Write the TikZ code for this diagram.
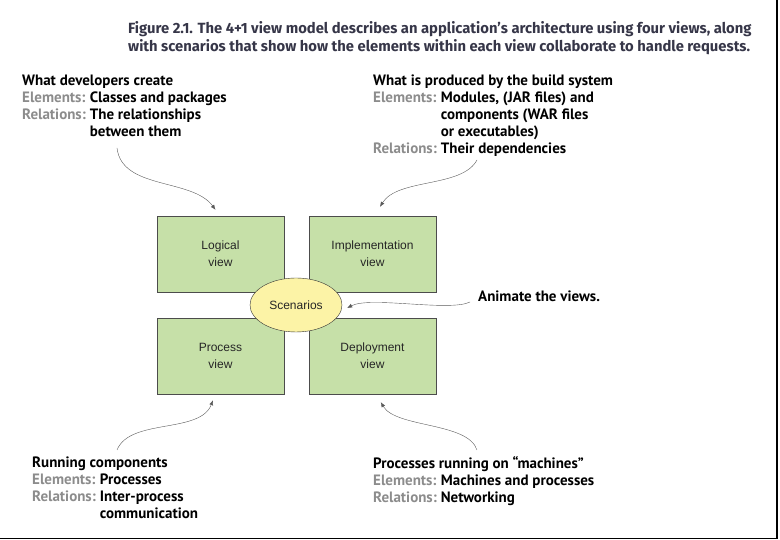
\documentclass[tikz,border=0pt]{standalone}
\usepackage{fontspec}
\setmainfont{Liberation Sans}
\newfontfamily\capfont{Fira Sans}
\newfontfamily\notefont{PT Sans}
\usetikzlibrary{positioning,arrows.meta,shapes.geometric}

\definecolor{viewgreen}{HTML}{C6E0A8}
\definecolor{scenyellow}{HTML}{FCF3A6}
\definecolor{capblue}{HTML}{363648}
\definecolor{relgray}{HTML}{8C8C8C}
\definecolor{arrowgray}{HTML}{5A5A5A}

\newcommand{\kind}[1]{\textcolor{relgray}{#1}}

\tikzset{
  viewbox/.style={draw=black!70, fill=viewgreen, minimum width=127pt, minimum height=76pt,
    inner sep=0pt, align=center, text=black!85, font=\fontsize{12}{17}\selectfont},
  scenbox/.style={ellipse, draw=black!80, fill=scenyellow, minimum width=92pt, minimum height=54pt,
    inner sep=0pt, text=black!85, font=\fontsize{12}{17}\selectfont},
  note/.style={anchor=north west, inner sep=0pt, font=\notefont\bfseries\fontsize{15}{17}\selectfont},
  pointer/.style={draw=arrowgray, thin, -{Latex[length=5pt,width=4pt]}},
}

\begin{document}
\begin{tikzpicture}[x=1pt,y=1pt]
  \useasboundingbox (0,0) rectangle (780,540);

  % page frame
  \draw[line width=1.4pt] (777,540) -- (777,1.5) -- (0,1.5);

  % caption
  \node[anchor=north west, inner sep=0pt, align=left, text=capblue,
        font=\capfont\bfseries\fontsize{14.8}{18}\selectfont] (caption) at (128,519)
    {Figure 2.1. The 4+1 view model describes an application’s architecture using four views, along\\
     with scenarios that show how the elements within each view collaborate to handle requests.};

  % the four views
  \node[viewbox] (logical) at (220.5,286) {Logical\\view};
  \node[viewbox] (impl) at (372.5,286) {Implementation\\view};
  \node[viewbox] (process) at (220.5,184) {Process\\view};
  \node[viewbox] (deploy) at (372.5,184) {Deployment\\view};
  \node[scenbox] (scen) at (296,235) {Scenarios};

  % notes
  \node[note] (devnote) at (22,467) {%
    \begin{tabular}{@{}l@{\hspace{4pt}}l@{}}
      \multicolumn{2}{@{}l@{}}{What developers create}\\
      \kind{Elements:} & Classes and packages\\
      \kind{Relations:} & The relationships\\
                        & between them
    \end{tabular}};
  \node[note] (buildnote) at (373,467) {%
    \begin{tabular}{@{}l@{\hspace{4pt}}l@{}}
      \multicolumn{2}{@{}l@{}}{What is produced by the build system}\\
      \kind{Elements:} & Modules, (JAR files) and\\
                       & components (WAR files\\
                       & or executables)\\
      \kind{Relations:} & Their dependencies
    \end{tabular}};
  \node[note] (runnote) at (32,85) {%
    \begin{tabular}{@{}l@{\hspace{4pt}}l@{}}
      \multicolumn{2}{@{}l@{}}{Running components}\\
      \kind{Elements:} & Processes\\
      \kind{Relations:} & Inter-process\\
                        & communication
    \end{tabular}};
  \node[note] (machnote) at (373,84) {%
    \begin{tabular}{@{}l@{\hspace{4pt}}l@{}}
      \multicolumn{2}{@{}l@{}}{Processes running on “machines”}\\
      \kind{Elements:} & Machines and processes\\
      \kind{Relations:} & Networking
    \end{tabular}};
  \node[note, anchor=west] (animnote) at (478,244) {Animate the views.};

  % pointer tails
  \coordinate (devtail) at (117,392);
  \coordinate (buildtail) at (477,380);
  \coordinate (animtail) at (470,238);
  \coordinate (runtail) at (117,90);
  \coordinate (machtail) at (477,90);

  % pointers
  \draw[pointer] (devtail) .. controls (122,350) and (192,362) .. ([shift={(-5,6)}]logical.north);
  \draw[pointer] (buildtail) .. controls (462,352) and (398,362) .. ([shift={(7.5,9)}]impl.north);
  \draw[pointer] (animtail) .. controls (450,228) and (370,244) .. ([shift={(5,-3)}]scen.east);
  \draw[pointer] (runtail) .. controls (130,122) and (200,106) .. ([shift={(-7.5,-6)}]process.south);
  \draw[pointer] (machtail) .. controls (468,118) and (396,112) .. ([shift={(72,-8)}]deploy.south west);
\end{tikzpicture}
\end{document}
